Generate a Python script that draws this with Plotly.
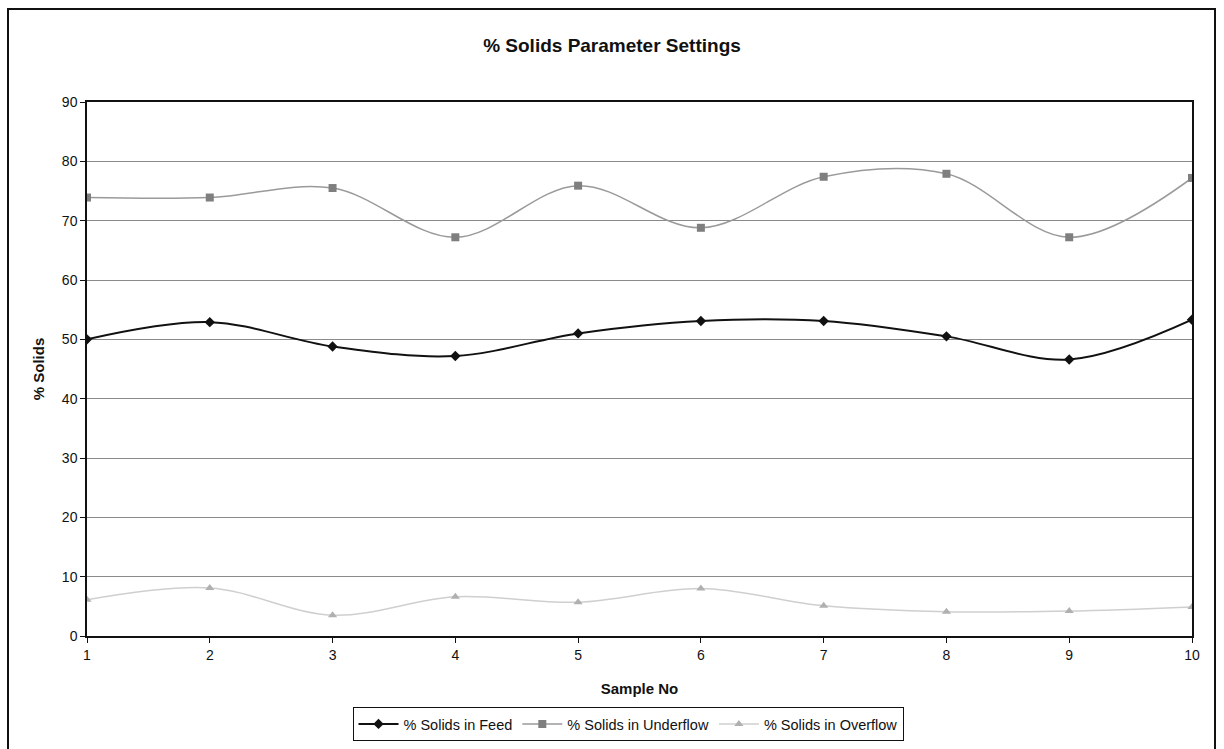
import plotly.graph_objects as go

# Sample numbers and measured % solids per stream
samples = [1, 2, 3, 4, 5, 6, 7, 8, 9, 10]
feed = [50.0, 52.9, 48.8, 47.2, 51.0, 53.1, 53.1, 50.5, 46.6, 53.3]
underflow = [73.9, 73.9, 75.5, 67.2, 75.9, 68.8, 77.4, 77.9, 67.2, 77.2]
overflow = [6.1, 8.1, 3.5, 6.6, 5.7, 8.0, 5.1, 4.1, 4.2, 4.9]
y_ticks = [0, 10, 20, 30, 40, 50, 60, 70, 80, 90]

W, H = 1224, 749
L, R, T, B = 87, 32, 102, 113
pw, ph = W - L - R, H - T - B

def px_x(v):
    return (v - L) / pw

def px_y(v):
    return (H - B - v) / ph

font = "Liberation Sans, Arial, sans-serif"

fig = go.Figure()
fig.add_trace(go.Scatter(
    x=samples, y=feed, name="% Solids in Feed", mode="lines+markers",
    line=dict(color="#111111", width=2, shape="spline", smoothing=1),
    marker=dict(symbol="diamond", size=8, color="#111111"),
))
fig.add_trace(go.Scatter(
    x=samples, y=underflow, name="% Solids in Underflow", mode="lines+markers",
    line=dict(color="#9a9a9a", width=1.5, shape="spline", smoothing=1),
    marker=dict(symbol="square", size=8, color="#7f7f7f"),
))
fig.add_trace(go.Scatter(
    x=samples, y=overflow, name="% Solids in Overflow", mode="lines+markers",
    line=dict(color="#cfcfcf", width=1.5, shape="spline", smoothing=1),
    marker=dict(symbol="triangle-up", size=8, color="#b0b0b0"),
))

fig.update_layout(
    width=W, height=H,
    margin=dict(l=L, r=R, t=T, b=B, autoexpand=False),
    paper_bgcolor="white", plot_bgcolor="white",
    font=dict(family=font, size=13, color="#111111"),
    title=dict(text="<b>% Solids Parameter Settings</b>", x=0.5, xanchor="center",
               y=1 - 45 / H, yanchor="middle", font=dict(size=19)),
    xaxis=dict(
        range=[1, 10], tickmode="array", tickvals=samples,
        ticks="outside", ticklen=5, tickcolor="#111111",
        showgrid=False, showline=True, linecolor="#111111", linewidth=1.5,
        mirror=True, zeroline=False, automargin=False,
        title=dict(text="<b>Sample No</b>", font=dict(size=15), standoff=22),
        tickfont=dict(size=14),
    ),
    yaxis=dict(
        range=[0, 90], tickmode="array", tickvals=y_ticks,
        ticks="outside", ticklen=5, tickcolor="#111111",
        showgrid=True, gridcolor="#8a8a8a", gridwidth=1,
        showline=True, linecolor="#111111", linewidth=1.5,
        mirror=True, zeroline=False, automargin=False,
        title=dict(text="<b>% Solids</b>", font=dict(size=15), standoff=14),
        tickfont=dict(size=14),
    ),
    legend=dict(
        orientation="h", x=px_x(628), xanchor="center", y=px_y(707), yanchor="top",
        bordercolor="#111111", borderwidth=1, bgcolor="white",
        font=dict(size=14.5), itemwidth=40, tracegroupgap=0,
    ),
    showlegend=True,
    shapes=[
        dict(type="rect", xref="paper", yref="paper",
             x0=px_x(8), x1=px_x(1215), y0=px_y(752), y1=px_y(9),
             line=dict(color="#111111", width=2), fillcolor="rgba(0,0,0,0)",
             layer="below"),
    ],
)

fig.write_html("out.html")
